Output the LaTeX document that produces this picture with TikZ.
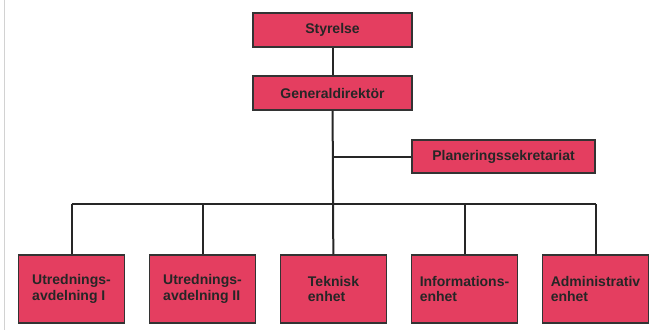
\documentclass[tikz,border=0pt]{standalone}
\usepackage{fontspec}
\setmainfont{Liberation Sans}
\usepackage{tikz}
\usepackage{color}
\definecolor{boxred}{RGB}{228,62,96}

\begin{document}
\begin{tikzpicture}[x=1pt, y=1pt, node distance=131pt,
  box/.style = {draw=black!80, fill=boxred, line width=1.2pt, text=black!85,
    font=\bfseries\fontsize{14}{15.5}\selectfont},
  head/.style = {box, minimum width=159pt, minimum height=34pt},
  unit/.style = {box, align=left, minimum width=106pt, minimum height=68pt},
  link/.style = {draw=black!85, line width=2pt}]
  \useasboundingbox (0,0) rectangle (650,-330);
  \draw[gray!35, line width=1pt] (4.5,0) -- (4.5,-330);
  \node[head] (s) at (332.5,-30) {Styrelse};
  \node[head] (g) [below of=s, node distance=63pt] {Generaldirektör};
  \node[box, minimum width=183pt, minimum height=33pt] (p) at (503.5,-156.5) {Planeringssekretariat};
  \node[unit] (3) at (333.5,-289) {Teknisk\\enhet};
  \node[unit] (2) [left of=3] {Utrednings-\\avdelning II};
  \node[unit] (1) [left of=2] {Utrednings-\\avdelning I};
  \node[unit] (4) [right of=3] {Informations-\\enhet};
  \node[unit] (5) [right of=4] {Administrativ\\enhet};
  \coordinate (bus) at (0,-204);
  \draw[link] (s) -- (g);
  \draw[link] (g) -- (3);
  \draw[link] (p) -- (g |- p);
  \draw[link] (1 |- bus) -- (5 |- bus);
  \foreach \n in {1,2,4,5}
    \draw[link] (\n.north) -- (\n |- bus);
\end{tikzpicture}
\end{document}
